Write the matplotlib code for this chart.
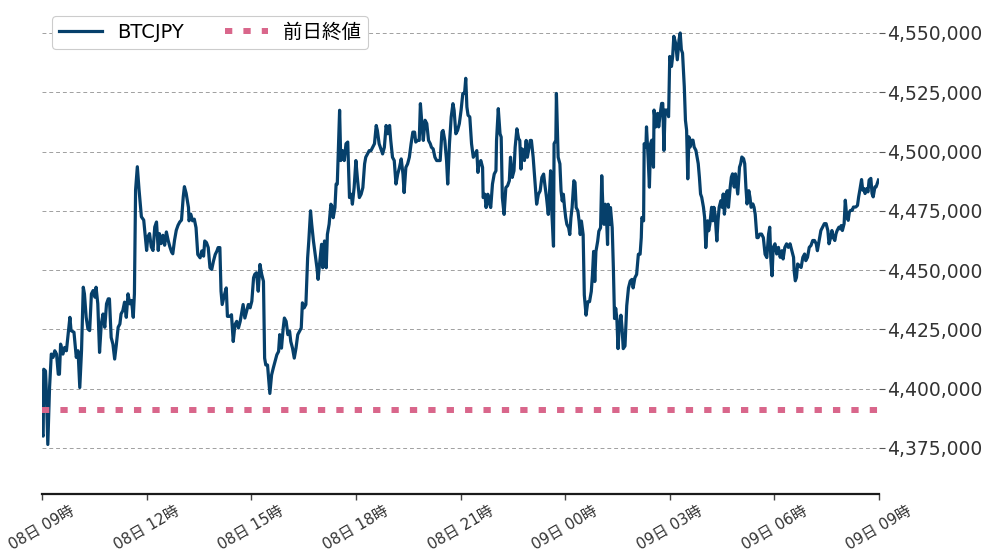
import numpy as np
import pandas as pd
import matplotlib
matplotlib.use("Agg")
import matplotlib.pyplot as plt
import matplotlib.dates as mdates
import matplotlib.ticker as mticker

plt.rcParams['font.family'] = ['DejaVu Sans', 'Noto Sans CJK JP']

# minutes after 08日 09時 and BTCJPY price (yen)
minutes = [
    0, 2, 3, 6, 7, 10, 13, 16, 19, 22,
    25, 28, 30, 32, 36, 39, 42, 48, 50, 55,
    59, 62, 65, 68, 71, 73, 76, 79, 82, 85,
    88, 91, 93, 96, 99, 102, 105, 108, 111, 114,
    116, 119, 122, 125, 128, 131, 134, 136, 139, 142,
    145, 148, 151, 154, 157, 159, 161, 164, 167, 171,
    175, 180, 182, 185, 188, 191, 194, 197, 200, 202,
    205, 208, 211, 214, 217, 220, 223, 225, 228, 231,
    234, 237, 240, 243, 245, 248,
    252, 253, 256, 259, 262, 265, 268, 272, 275, 278,
    280, 283, 286, 289, 292, 295, 298, 301, 303, 306,
    308, 310, 314, 317, 319, 323, 326, 329, 332, 335,
    338, 341, 344, 346, 349, 352, 355, 358, 361, 364,
    366, 369, 372, 375, 378, 381, 383, 385, 388, 392,
    395, 398, 401, 404, 407, 409, 412, 415, 417, 420,
    423, 426, 428, 431, 434, 437, 440, 443, 446, 448,
    451, 454, 457, 459, 462, 464, 467, 470, 473, 475,
    478, 481, 483, 486, 489, 491, 494, 497, 500,
    501, 504, 506, 508, 512, 514, 517, 520, 523, 526,
    529, 532, 534, 537, 540, 543, 546, 549, 552, 555,
    557, 560, 563, 566, 569, 572, 575, 577, 580, 583,
    586, 589, 592, 595, 598, 600, 603, 606, 609, 612,
    615, 618, 621, 623, 626, 629, 632, 635, 638, 641,
    643, 646, 649, 651, 654, 656, 659, 662, 665, 668,
    670, 673, 676, 679, 682, 685, 688, 690, 693, 696,
    698, 701, 704, 707, 709, 712, 715, 718, 721, 724,
    727, 729, 731, 733, 736, 739, 742, 745,
    748, 750, 752, 755, 758, 759, 762, 764, 767, 770,
    772, 775, 778, 781, 782, 785, 788, 790, 792, 795,
    798, 801, 804, 806, 809, 812, 814, 817, 820, 822,
    824, 826, 828, 830, 833, 835, 837, 840, 842, 845,
    848, 851, 854, 857, 860, 863, 865, 868, 871, 873,
    875, 877, 880, 881, 884, 885, 888, 891, 893, 895,
    897, 899, 901, 903, 906, 908, 910, 912, 915, 917,
    919, 922, 924, 926, 928, 931, 933, 936, 939, 942,
    945, 947, 949, 951, 953, 956, 958, 961, 963, 965,
    967, 969, 971, 973, 974, 977, 978, 981, 983, 985,
    987, 989, 991, 993, 996, 998, 1000, 1003, 1006,
    1009, 1012, 1015, 1017, 1020, 1023, 1026, 1029, 1031, 1032,
    1035, 1036, 1039, 1040, 1043, 1045, 1047, 1049, 1052, 1053,
    1056, 1059, 1061, 1063, 1066, 1068, 1070, 1072, 1075, 1078,
    1080, 1083, 1085, 1087, 1090, 1093, 1096, 1098, 1100, 1102,
    1105, 1107, 1109, 1111, 1113, 1115, 1118, 1120, 1122, 1125,
    1127, 1129, 1131, 1133, 1135, 1138, 1140, 1142, 1145, 1147,
    1149, 1152, 1154, 1156, 1158, 1161, 1163, 1165, 1168, 1170,
    1172, 1174, 1177, 1179, 1181, 1184, 1186, 1188, 1191, 1193,
    1195, 1197, 1200, 1202, 1204, 1207, 1209, 1211, 1213, 1216,
    1218, 1220, 1223, 1225, 1227, 1230, 1232, 1235, 1238, 1241,
    1244, 1247, 1250,
    1252, 1254, 1256, 1258, 1261, 1264, 1267, 1270, 1273, 1275,
    1278, 1281, 1284, 1287, 1290, 1293, 1294, 1296, 1298, 1300,
    1303, 1306, 1309, 1312, 1314, 1317, 1320, 1323, 1326, 1329,
    1332, 1334, 1337, 1340, 1343, 1346, 1349, 1352, 1354, 1357,
    1359, 1361, 1364, 1366, 1368, 1371, 1373, 1375, 1377, 1380,
    1382, 1384, 1387, 1389, 1391, 1394, 1396, 1398, 1400, 1403,
    1405, 1407, 1410, 1412, 1414, 1416, 1419, 1421, 1423, 1426,
    1428, 1430, 1433, 1435, 1437, 1439,
]

prices = [
    4381000, 4380000, 4408200, 4407500, 4401900, 4376500, 4400500, 4414600, 4413200, 4416000,
    4414600, 4406100, 4406100, 4418800, 4414600, 4417400, 4416000, 4430100, 4424500, 4423800,
    4413200, 4416000, 4400500, 4416000, 4442800, 4440000, 4430100, 4425200, 4424500, 4440000,
    4441400, 4438600, 4442800, 4435800, 4415300, 4427300, 4431500, 4425900, 4435800, 4437900,
    4437900, 4421600, 4418800, 4412500, 4418800, 4425900, 4427300, 4431500, 4432900, 4436500,
    4430100, 4440000, 4435800, 4437200, 4430100, 4440000, 4483800, 4493600, 4483800, 4472500,
    4471100, 4458300, 4464000, 4465400, 4459800, 4458300, 4468200, 4470300, 4458300, 4465400,
    4461200, 4464700, 4460500, 4466100, 4462600, 4459800, 4457600, 4456900, 4462600, 4466800,
    4468900, 4470300, 4471100, 4480900, 4485200, 4482400,
    4476400, 4470800, 4473600, 4470800, 4471500, 4467900, 4456600, 4455200, 4458100, 4455900,
    4462300, 4461600, 4459500, 4451000, 4450300, 4453800, 4456600, 4458100, 4459500, 4459500,
    4441100, 4435500, 4439700, 4442500, 4430500, 4430500, 4431200, 4419900, 4427000, 4428400,
    4425600, 4428400, 4432600, 4435500, 4429800, 4432600, 4435500, 4434100, 4436900, 4446800,
    4448200, 4448900, 4441100, 4452400, 4448200, 4445300, 4412900, 4410000, 4410000, 4398000,
    4405800, 4408800, 4411500, 4414300, 4415700, 4422800, 4417100, 4425600, 4429800, 4428400,
    4422800, 4424200, 4419900, 4417100, 4412900, 4417100, 4422800, 4424200, 4425600, 4436200,
    4434100, 4435500, 4455200, 4462300, 4475000, 4469400, 4462300, 4456600, 4451000, 4446100,
    4453800, 4460900, 4451000, 4462300, 4451000, 4465100, 4469400, 4477800, 4476400,
    4472100, 4476400, 4486300, 4486300, 4517400, 4496200, 4500400, 4496200, 4503300, 4504000,
    4480600, 4482000, 4477800, 4484800, 4496200, 4487700, 4480600, 4482000, 4484800, 4494800,
    4497600, 4499000, 4500400, 4500400, 4501800, 4503300, 4511000, 4508900, 4503300, 4501100,
    4499000, 4501800, 4511000, 4507500, 4511000, 4504700, 4497600, 4496200, 4486300, 4490500,
    4493300, 4496900, 4490500, 4482700, 4493300, 4494800, 4497600, 4503300, 4508200, 4508200,
    4504000, 4504700, 4504700, 4520200, 4510300, 4504700, 4513200, 4511800, 4504700, 4503300,
    4501800, 4501100, 4497600, 4496200, 4496200, 4496200, 4508200, 4508900, 4504700, 4496200,
    4486300, 4503300, 4514600, 4520200, 4517400, 4507500, 4508900, 4511800, 4517400, 4524500,
    4524500, 4530900, 4518800, 4515300, 4514600, 4503300, 4497600, 4499000,
    4500400, 4491200, 4494800, 4496200, 4493300, 4480600, 4482000, 4476400, 4482000, 4477800,
    4476400, 4486300, 4490500, 4491900, 4504700, 4518100, 4507500, 4506100, 4480600, 4473500,
    4484800, 4485600, 4487700, 4497600, 4489100, 4491900, 4501800, 4509600, 4505400, 4504700,
    4492600, 4501100, 4500400, 4496200, 4504700, 4497600, 4500400, 4504700, 4504700, 4497600,
    4487700, 4477800, 4482000, 4483400, 4489100, 4490500, 4486300, 4480600, 4473500, 4482000,
    4491900, 4474900, 4460100, 4503300, 4504700, 4524500, 4497600, 4494800, 4483400, 4479200,
    4482000, 4476400, 4472100, 4469300, 4467900, 4465000, 4472100, 4476400, 4487700, 4487000,
    4476400, 4474900, 4470700, 4465000, 4470700, 4465000, 4439500, 4431000, 4436700, 4436700,
    4441000, 4448000, 4457900, 4445200, 4457900, 4462200, 4466400, 4467900, 4489800, 4476400,
    4469300, 4477800, 4473500, 4460800, 4477800, 4469300, 4476400, 4467900, 4450900, 4429600,
    4433900, 4429600, 4416900, 4425400, 4431000, 4425400, 4416900, 4418000, 4435000,
    4442500, 4445400, 4446100, 4442500, 4446800, 4448200, 4456700, 4456700, 4463700, 4472200,
    4470800, 4503300, 4501900, 4510400, 4496300, 4485000, 4503300, 4504800, 4493400, 4517500,
    4510400, 4516100, 4510400, 4514700, 4520300, 4520300, 4500500, 4517500, 4517500, 4514700,
    4540100, 4535900, 4540100, 4548600, 4545800, 4538700, 4547200, 4550000, 4542900, 4541500,
    4527400, 4513200, 4509000, 4488500, 4506200, 4501900, 4504800, 4504800, 4501900, 4500500,
    4497700, 4494900, 4489200, 4482100, 4480700, 4476500, 4472200, 4459500, 4470800, 4466600,
    4469400, 4476500, 4470800, 4476500, 4473600, 4462300, 4470800, 4476500, 4479300, 4476500,
    4482100, 4473600, 4482100, 4483500, 4476500, 4485000, 4489200, 4490600, 4485000, 4490600,
    4486400, 4482100, 4493400, 4494900, 4497700, 4497000, 4494900, 4485000, 4477900, 4483500,
    4480700, 4476500, 4477900, 4476500, 4473600, 4463700, 4463700, 4465200, 4465200, 4463700,
    4456700, 4455300, 4465200,
    4468100, 4454000, 4447600, 4459600, 4461100, 4456800, 4459600, 4455400, 4458200, 4454700,
    4459600, 4461100, 4459600, 4461100, 4458200, 4455400, 4449700, 4445500, 4446900, 4452600,
    4451900, 4451100, 4455400, 4456800, 4454000, 4455400, 4459600, 4460400, 4462500, 4462500,
    4461100, 4458200, 4462500, 4466700, 4468100, 4469600, 4469600, 4466700, 4461100, 4463900,
    4466700, 4463900, 4462500, 4465300, 4466700, 4468100, 4467400, 4468800, 4466700, 4469600,
    4479500, 4473800, 4471000, 4474500, 4475200, 4475200, 4476600, 4476600, 4476600, 4477300,
    4480900, 4483700, 4488200, 4483700, 4484400, 4482300, 4484400, 4483000, 4488000, 4488700,
    4482300, 4480900, 4485100, 4485100, 4486500, 4488000,
]

prev_close = 4391000
y_ticks = [4375000, 4400000, 4425000, 4450000, 4475000, 4500000, 4525000, 4550000]

assert len(minutes) == len(prices)

start = pd.Timestamp('2024-01-08 09:00')
times = start + pd.to_timedelta(minutes, unit='m')

fig = plt.figure(figsize=(9.91, 5.58), dpi=100)
ax = fig.add_axes([42 / 991, 1 - 494 / 558, (879 - 42) / 991, (494 - 5) / 558])

ax.plot(times, prices, color='#06406b', linewidth=2.3, label='BTCJPY', zorder=3,
        solid_joinstyle='round')
ax.axhline(prev_close, color='#d9668b', linewidth=4.3, linestyle=(0, (1.22, 1.86)),
           label='前日終値', zorder=4)

ax.set_xlim(start, start + pd.Timedelta(hours=24))
ax.set_ylim(4355600, 4561800)

ax.xaxis.set_major_locator(mdates.HourLocator(byhour=range(0, 24, 3)))
ax.xaxis.set_major_formatter(mdates.DateFormatter('%d日 %H時'))
for lbl in ax.get_xticklabels():
    lbl.set_rotation(30)
    lbl.set_ha('center')
ax.tick_params(axis='x', length=4, width=1.0, color='#444444', labelsize=10.8,
               labelcolor='#333333', pad=3)

ax.yaxis.tick_right()
ax.set_yticks(y_ticks)
ax.yaxis.set_major_formatter(mticker.StrMethodFormatter('{x:,.0f}'))
ax.tick_params(axis='y', length=4, width=0.8, color='#555555', labelsize=13.5,
               labelcolor='#333333', pad=2)
ax.grid(axis='y', color='#a0a0a0', linewidth=0.7, linestyle=(0, (4, 3)))
ax.set_axisbelow(True)

for side in ['top', 'left', 'right']:
    ax.spines[side].set_visible(False)
ax.spines['bottom'].set_color('#1a1a1a')
ax.spines['bottom'].set_linewidth(1.6)

leg = ax.legend(loc='upper left', bbox_to_anchor=(52 / 991, 1 - 16 / 558),
                bbox_transform=fig.transFigure, borderaxespad=0, ncol=2,
                fontsize=14, handlelength=2.2, handletextpad=0.8, columnspacing=2.1,
                frameon=True, fancybox=True, framealpha=1, edgecolor='#cccccc',
                borderpad=0.35)
leg.get_frame().set_linewidth(0.8)

fig.savefig('out.png', dpi=100)
